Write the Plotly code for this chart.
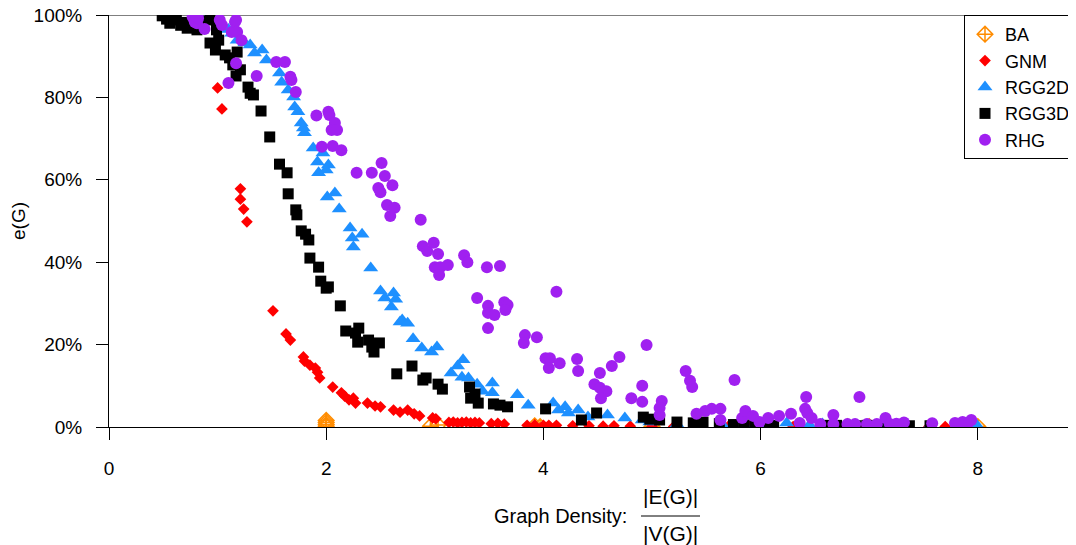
import plotly.graph_objects as go

# ---------------- data ----------------
ba_x = [2.0, 2.0, 2.0, 2.0, 2.96, 3.03, 3.92, 3.97, 5.0, 6.0, 6.8, 7.0, 8.0]
ba_y = [0.2, 0.6, 1.1, 1.6, 0.2, 0.5, 0.3, 0.1, 0.1, 0.1, 0.1, 0.1, 0.1]

gnm_x = [1.00, 1.04, 1.21, 1.21, 1.24, 1.27, 1.51, 1.63, 1.67, 1.79,
         1.80, 1.85, 1.90, 1.92, 1.94, 2.06, 2.14, 2.17, 2.21, 2.25,
         2.27, 2.38, 2.45, 2.50, 2.62, 2.68, 2.75, 2.81, 2.86, 2.98,
         3.01, 3.13, 3.17, 3.21, 3.25, 3.29, 3.33, 3.37, 3.41, 3.52,
         3.58, 3.64, 3.85, 3.92, 4.00, 4.05, 4.12, 4.27, 4.42, 4.55,
         4.65, 4.80, 5.00, 5.20, 5.45, 5.70, 5.90, 6.10, 6.30, 6.55,
         6.80, 7.05, 7.30, 7.55, 7.70, 7.85]
gnm_y = [82.3, 77.2, 57.8, 55.3, 52.9, 49.8, 28.2, 22.6, 21.1, 17.0,
         16.0, 15.0, 14.3, 13.3, 11.9, 9.7, 8.3, 7.5, 6.6, 7.0,
         5.8, 5.8, 5.1, 4.9, 4.1, 3.6, 4.1, 3.2, 2.7, 2.2,
         2.0, 1.1, 1.2, 1.0, 1.1, 1.2, 1.0, 1.1, 1.0, 0.8,
         0.9, 0.7, 0.4, 0.5, 0.4, 0.4, 0.4, 0.3, 0.3, 0.2,
         0.3, 0.2, 0.2, 0.1, 0.1, 0.1, 0.1, 0.1, 0.1, 0.1,
         0.1, 0.1, 0.1, 0.1, 0.1, 0.1]

rgg2d_x = [0.91, 0.95, 1.00, 1.05, 1.10, 1.13, 1.18, 1.25, 1.30, 1.34,
           1.41, 1.45, 1.57, 1.59, 1.65, 1.70, 1.71, 1.74, 1.77, 1.79,
           1.80, 1.88, 1.97, 1.92, 2.02, 2.00, 1.93, 2.01, 2.08, 2.12,
           2.22, 2.33, 2.24, 2.25, 2.41, 2.50, 2.54, 2.62, 2.60, 2.68,
           2.64, 2.70, 2.75, 2.80, 2.88, 2.97, 3.02, 3.15, 3.21, 3.26,
           3.25, 3.31, 3.39, 3.44, 3.53, 3.53, 3.76, 3.86, 4.09, 4.14,
           4.20, 4.23, 4.32, 4.41, 4.59, 4.75, 4.91, 4.98, 5.23, 5.45,
           5.65, 5.85, 6.05, 6.24, 6.45, 6.57, 6.85, 7.10, 7.35, 7.56,
           7.80, 7.99]
rgg2d_y = [99.5, 99.0, 98.5, 97.5, 96.5, 95.6, 93.9, 93.2, 92.7, 90.8,
           91.5, 89.1, 85.9, 83.7, 81.8, 80.1, 77.7, 76.5, 73.8, 72.6,
           71.4, 67.7, 66.5, 64.3, 63.6, 62.4, 61.7, 55.8, 56.8, 52.9,
           48.3, 46.8, 45.9, 43.7, 38.6, 33.0, 31.3, 32.5, 29.1, 25.5,
           31.0, 26.0, 25.2, 21.4, 19.2, 18.2, 19.4, 13.1, 14.8, 16.3,
           12.1, 11.9, 10.4, 8.7, 10.7, 8.3, 7.8, 5.3, 5.8, 4.1,
           4.9, 3.4, 4.1, 2.4, 2.9, 2.2, 1.7, 1.2, 0.7, 0.6,
           0.5, 0.5, 0.4, 1.0, 0.5, 0.7, 0.4, 0.4, 0.5, 0.4,
           0.3, 0.5]

rgg3d_x = [0.49, 0.53, 0.56, 0.60, 0.62, 0.66, 0.70, 0.72, 0.76, 0.81,
           0.85, 0.87, 0.93, 0.99, 0.93, 1.01, 0.98, 1.07, 1.11, 1.18,
           1.14, 1.21, 1.17, 1.28, 1.30, 1.33, 1.40, 1.48, 1.57, 1.64,
           1.65, 1.72, 1.73, 1.77, 1.81, 1.84, 1.85, 1.93, 1.95, 2.00,
           2.02, 2.13, 2.18, 2.30, 2.27, 2.29, 2.39, 2.49, 2.44, 2.42,
           2.65, 2.79, 2.89, 2.92, 3.03, 3.07, 3.32, 3.37, 3.33, 3.40,
           3.54, 3.60, 3.67, 4.02, 4.35, 4.49, 4.92, 4.98, 5.07, 5.23,
           5.38, 5.47, 5.62, 5.75, 5.85, 5.95, 6.08, 6.12, 6.62, 6.70,
           6.88, 6.98, 7.08, 7.18, 7.25, 7.37, 7.56]
rgg3d_y = [99.8, 99.0, 98.0, 99.5, 98.8, 97.5, 98.2, 96.8, 97.8, 96.4,
           98.5, 97.1, 98.8, 96.4, 93.2, 93.9, 91.5, 90.3, 89.6, 91.0,
           87.9, 86.7, 85.2, 82.5, 81.0, 80.6, 76.7, 70.4, 63.8, 61.7,
           56.6, 52.7, 51.5, 47.6, 46.8, 45.4, 41.0, 38.8, 35.4, 33.7,
           34.0, 29.4, 23.3, 24.0, 22.8, 20.6, 21.1, 20.4, 18.2, 19.4,
           12.9, 14.8, 11.4, 11.9, 10.4, 9.2, 9.7, 8.0, 7.0, 5.8,
           5.6, 5.3, 4.9, 4.4, 1.7, 3.4, 2.4, 1.9, 1.7, 1.2,
           1.0, 1.2, 0.8, 0.6, 0.5, 0.5, 0.4, 0.3, 0.4, 0.4,
           0.3, 0.4, 0.3, 0.3, 0.4, 0.3, 0.3]

rhg_x = [0.77, 0.79, 0.81, 0.82, 0.88, 1.02, 1.04, 1.16, 1.17, 1.13,
         1.18, 1.22, 1.17, 1.10, 1.36, 1.54, 1.62, 1.67, 1.68, 1.72,
         1.91, 2.02, 2.03, 2.08, 2.05, 2.10, 1.96, 2.06, 2.14, 2.28,
         2.42, 2.51, 2.54, 2.48, 2.61, 2.56, 2.63, 2.59, 2.50, 2.87,
         2.89, 2.93, 2.99, 3.03, 3.00, 3.05, 3.12, 3.04, 3.27, 3.30,
         3.48, 3.60, 3.39, 3.49, 3.49, 3.55, 3.64, 3.67, 3.65, 3.49,
         3.83, 3.82, 3.94, 4.12, 4.02, 4.06, 4.05, 4.15, 4.31, 4.32,
         4.52, 4.47, 4.52, 4.58, 4.53, 4.63, 4.70, 4.81, 4.91, 4.91,
         4.95, 5.31, 5.35, 5.37, 5.76, 5.09, 5.07, 5.07, 5.41, 5.49,
         5.55, 5.63, 5.63, 5.83, 5.86, 5.93, 5.99, 6.07, 6.17, 6.28,
         6.36, 6.42, 6.41, 6.43, 6.47, 6.55, 6.67, 6.67, 6.80, 6.87,
         6.91, 6.98, 7.07, 7.15, 7.19, 7.25, 7.32, 7.58, 7.79, 7.86,
         7.91, 7.94]
rhg_y = [99.5, 98.3, 98.0, 99.2, 96.6, 98.8, 97.6, 98.3, 98.8, 95.9,
         95.9, 93.9, 88.3, 83.5, 85.2, 88.6, 88.6, 85.0, 84.2, 81.3,
         75.6, 76.5, 75.7, 73.8, 72.1, 72.1, 68.0, 68.2, 67.2, 61.7,
         61.7, 64.1, 60.9, 58.0, 58.7, 53.9, 53.2, 51.2, 57.0, 50.3,
         43.9, 42.7, 44.7, 42.0, 38.8, 38.8, 39.3, 36.9, 41.7, 40.0,
         38.8, 39.1, 31.3, 29.4, 27.7, 27.2, 30.3, 29.6, 28.4, 24.0,
         22.3, 20.4, 21.8, 32.8, 16.7, 16.7, 14.3, 15.5, 16.5, 13.6,
         13.1, 10.4, 9.5, 8.7, 7.0, 14.8, 17.0, 7.0, 10.0, 6.1,
         19.9, 13.6, 11.2, 9.7, 11.4, 6.3, 4.6, 2.9, 3.2, 3.9,
         4.4, 4.4, 1.7, 2.2, 3.9, 2.7, 1.2, 2.2, 2.7, 3.2,
         1.0, 7.3, 4.4, 3.4, 2.2, 0.7, 2.9, 0.7, 0.7, 0.7,
         7.3, 0.7, 0.7, 2.2, 0.7, 0.8, 1.1, 0.9, 1.0, 1.2,
         1.0, 1.7]

x_ticks = [0, 2, 4, 6, 8]
y_ticks = [0, 20, 40, 60, 80, 100]

# ---------------- figure ----------------
# the page body has an 8px default margin, so the figure is drawn 8px
# right/down from the window corner; work in window pixels and subtract it.
OFF = 8
FONT = "Liberation Sans, Arial, Helvetica, sans-serif"
W, H = 1076 - OFF, 545 - OFF
PLOT_LEFT, PLOT_TOP, PLOT_BOTTOM = 109, 15, 427   # window pixels
L = PLOT_LEFT - OFF
T = PLOT_TOP - OFF
B = H - (PLOT_BOTTOM - OFF)
plot_w = W - L
ph = H - T - B
x_max = plot_w / 108.6

def px_to_paper_x(px):
    return (px - PLOT_LEFT) / plot_w
def px_to_paper_y(py):
    return (PLOT_BOTTOM - py) / ph

fig = go.Figure()
series = [
    ("BA", ba_x, ba_y, "diamond-cross-open", 12, "#FF8C00"),
    ("GNM", gnm_x, gnm_y, "diamond", 9, "#FF0000"),
    ("RGG2D", rgg2d_x, rgg2d_y, "triangle-up", 13, "#1E90FF"),
    ("RGG3D", rgg3d_x, rgg3d_y, "square", 11, "#000000"),
    ("RHG", rhg_x, rhg_y, "circle", 12, "#A020F0"),
]
for name, xs, ys, sym, size, col in series:
    fig.add_trace(go.Scatter(
        x=xs, y=ys, mode="markers", name=name,
        marker=dict(symbol=sym, size=size, color=col,
                    line=dict(width=1.5 if sym.endswith("open") else 0, color=col)),
        cliponaxis=True,
    ))

fig.update_layout(
    width=W, height=H,
    margin=dict(l=L, r=0, t=T, b=B, pad=0, autoexpand=False),
    plot_bgcolor="white", paper_bgcolor="white",
    font=dict(family=FONT, size=19, color="black"),
    showlegend=True,
    legend=dict(x=px_to_paper_x(964), y=1, xanchor="left", yanchor="top",
                bordercolor="black", borderwidth=1, bgcolor="white",
                font=dict(size=18), itemsizing="trace", tracegroupgap=0),
)
fig.update_xaxes(range=[0, x_max], tickvals=x_ticks, ticktext=[str(v) for v in x_ticks],
                 ticks="outside", ticklen=12, tickcolor="black", tickwidth=1,
                 showline=True, linecolor="black", linewidth=1,
                 showgrid=False, zeroline=False, tickfont=dict(size=19),
                 ticklabelstandoff=12)
fig.update_yaxes(range=[0, 100], tickvals=y_ticks, ticktext=[f"{v}%" for v in y_ticks],
                 ticks="outside", ticklen=12, tickcolor="black", tickwidth=1,
                 showline=True, linecolor="black", linewidth=1,
                 showgrid=False, zeroline=False, tickfont=dict(size=19),
                 ticklabelstandoff=10, ticklabeloverflow="allow")

# top reference line at 100%
fig.add_shape(type="line", xref="paper", yref="y", x0=0, x1=1, y0=100, y1=100,
              line=dict(color="#555555", width=1.5), layer="below")

# axis titles
fig.add_annotation(text="e(G)", textangle=-90, xref="paper", yref="paper",
                   x=px_to_paper_x(18), y=0.5, xanchor="center", yanchor="middle",
                   showarrow=False, font=dict(size=19))
fig.add_annotation(text="Graph Density:", xref="paper", yref="paper",
                   x=px_to_paper_x(629), xanchor="right", yanchor="middle",
                   y=px_to_paper_y(516), showarrow=False, font=dict(size=20))
fig.add_annotation(text="|E(G)|", xref="paper", yref="paper",
                   x=px_to_paper_x(670), y=px_to_paper_y(497),
                   xanchor="center", yanchor="middle",
                   showarrow=False, font=dict(size=21))
fig.add_annotation(text="|V(G)|", xref="paper", yref="paper",
                   x=px_to_paper_x(670), y=px_to_paper_y(533),
                   xanchor="center", yanchor="middle",
                   showarrow=False, font=dict(size=21))
fig.add_shape(type="line", xref="paper", yref="paper",
              x0=px_to_paper_x(641), x1=px_to_paper_x(700),
              y0=px_to_paper_y(516), y1=px_to_paper_y(516),
              line=dict(color="black", width=1))

fig.write_html("out.html")
